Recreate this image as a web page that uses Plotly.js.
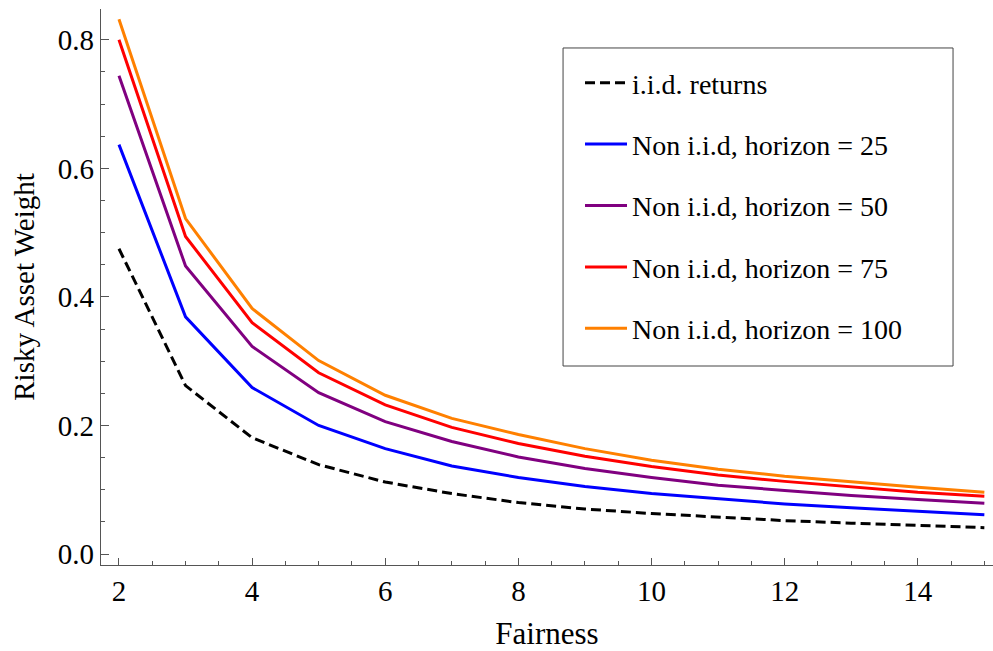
<!DOCTYPE html>
<html>
<head>
<meta charset="utf-8">
<script src="https://cdn.plot.ly/plotly-3.0.1.min.js"></script>
<style>html,body{margin:0;padding:0;background:#fff;}#chart{width:993px;height:651px;}</style>
</head>
<body>
<div id="chart"></div>
<script>
const fairness = [2, 3, 4, 5, 6, 7, 8, 9, 10, 11, 12, 13, 14, 15];
const iidReturns = [0.475, 0.262, 0.181, 0.139, 0.112, 0.094, 0.080, 0.070, 0.063, 0.057, 0.052, 0.048, 0.044, 0.041];
const horizon25  = [0.637, 0.369, 0.259, 0.200, 0.164, 0.137, 0.119, 0.105, 0.094, 0.086, 0.078, 0.072, 0.066, 0.061];
const horizon50  = [0.744, 0.448, 0.323, 0.251, 0.206, 0.175, 0.151, 0.133, 0.119, 0.107, 0.099, 0.091, 0.085, 0.079];
const horizon75  = [0.800, 0.494, 0.360, 0.282, 0.232, 0.197, 0.172, 0.152, 0.136, 0.123, 0.113, 0.104, 0.096, 0.090];
const horizon100 = [0.832, 0.522, 0.382, 0.301, 0.247, 0.211, 0.186, 0.164, 0.146, 0.132, 0.121, 0.112, 0.104, 0.096];
const seriesNames = ["i.i.d. returns", "Non i.i.d, horizon = 25", "Non i.i.d, horizon = 50", "Non i.i.d, horizon = 75", "Non i.i.d, horizon = 100"];

const FONT = "Liberation Serif";
const series = [iidReturns, horizon25, horizon50, horizon75, horizon100];
const colors = ["#000000", "#0000ff", "#800080", "#ff0000", "#ff8000"];
const dashes = ["10px,5px", "solid", "solid", "solid", "solid"];

const traces = series.map((ys, i) => ({
  x: fairness, y: ys, type: "scatter", mode: "lines",
  name: seriesNames[i], legendgroup: "g" + i,
  line: {color: colors[i], width: 3, dash: dashes[i]}
}));

const layout = {
  width: 993, height: 651,
  margin: {l: 101, r: 0, t: 9, b: 86},
  paper_bgcolor: "#fff", plot_bgcolor: "#fff",
  font: {family: FONT, size: 28, color: "#000"},
  showlegend: true,
  legend: {
    x: 0.537, y: 0.9119, xanchor: "left", yanchor: "top",
    bgcolor: "rgba(0,0,0,0)", borderwidth: 0,
    itemwidth: 42,
    font: {family: FONT, size: 28, color: "#000"},
    traceorder: "grouped", tracegroupgap: 22
  },
  shapes: [{
    type: "rect", xref: "paper", yref: "paper",
    x0: 0.518, x1: 0.9552, y0: 0.3579, y1: 0.9299,
    line: {color: "#444", width: 1}, fillcolor: "rgba(0,0,0,0)", layer: "below"
  }],
  xaxis: {
    range: [1.73, 15.13], tick0: 2, dtick: 2,
    showgrid: false, zeroline: false,
    showline: true, linecolor: "#555", linewidth: 1.3,
    ticks: "inside", ticklen: 7, tickcolor: "#555", tickwidth: 1,
    minor: {dtick: 0.5, ticks: "inside", ticklen: 4, tickcolor: "#555", showgrid: false},
    tickfont: {family: FONT, size: 29, color: "#000"},
    title: {text: "Fairness", font: {family: FONT, size: 31, color: "#000"}, standoff: 18}
  },
  yaxis: {
    range: [-0.0171, 0.848], tick0: 0, dtick: 0.2, tickformat: ".1f",
    showgrid: false, zeroline: false,
    showline: true, linecolor: "#555", linewidth: 1.3,
    ticks: "inside", ticklen: 8, tickcolor: "#555", tickwidth: 1,
    minor: {dtick: 0.05, ticks: "inside", ticklen: 4, tickcolor: "#555", showgrid: false},
    tickfont: {family: FONT, size: 29, color: "#000"},
    title: {text: "Risky Asset Weight", font: {family: FONT, size: 29, color: "#000"}, standoff: 14}
  }
};

Plotly.newPlot("chart", traces, layout, {displayModeBar: false, staticPlot: true});
</script>
</body>
</html>
